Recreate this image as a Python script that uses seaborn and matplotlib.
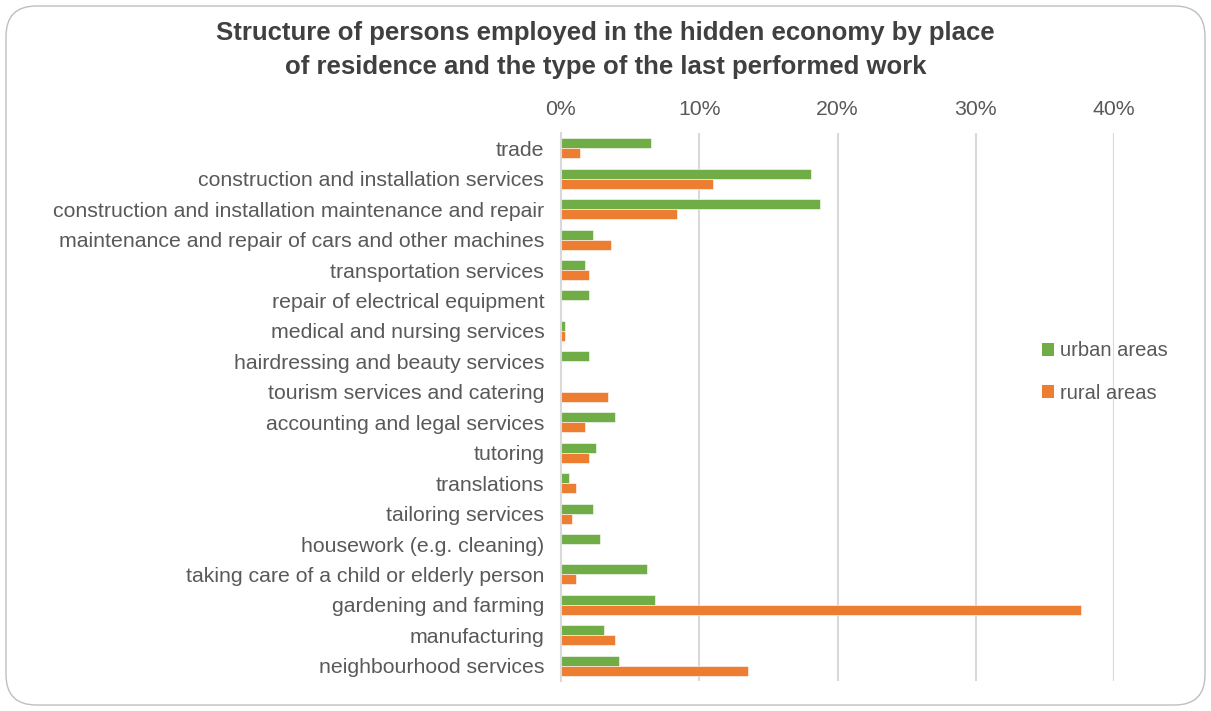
import numpy as np
import pandas as pd
import seaborn as sns
import matplotlib.pyplot as plt
from matplotlib.patches import FancyBboxPatch, Patch
from matplotlib.ticker import PercentFormatter

# ==================== data ====================
categories = [
    "trade",
    "construction and installation services",
    "construction and installation maintenance and repair",
    "maintenance and repair of cars and other machines",
    "transportation services",
    "repair of electrical equipment",
    "medical and nursing services",
    "hairdressing and beauty services",
    "tourism services and catering",
    "accounting and legal services",
    "tutoring",
    "translations",
    "tailoring services",
    "housework (e.g. cleaning)",
    "taking care of a child or elderly person",
    "gardening and farming",
    "manufacturing",
    "neighbourhood services",
]
urban = [6.5, 18.1, 18.7, 2.3, 1.7, 2.0, 0.3, 2.0, 0.0, 3.9, 2.5, 0.6,
         2.3, 2.8, 6.2, 6.8, 3.1, 4.2]
rural = [1.4, 11.0, 8.4, 3.6, 2.0, 0.0, 0.3, 0.0, 3.4, 1.7, 2.0, 1.1,
         0.8, 0.0, 1.1, 37.6, 3.9, 13.5]
series_names = ["urban areas", "rural areas"]
colors = ["#70ad47", "#ed7d31"]

# long format for seaborn
df = pd.DataFrame({
    "category": categories * 2,
    "value": np.array(urban + rural) / 100.0,
    "area": [series_names[0]] * len(categories) + [series_names[1]] * len(categories),
})

# ==================== style ====================
sns.set_style("white")
plt.rcParams['font.family'] = ['Liberation Sans', 'DejaVu Sans']
text_color = "#595959"
fs = 15.3

fig = plt.figure(figsize=(12.11, 7.11), dpi=100)
ax = fig.add_axes([561 / 1211, 1 - 681 / 711, (1114 - 561) / 1211, (681 - 133) / 711])

sns.barplot(
    data=df, y="category", x="value", hue="area", orient="h",
    order=categories, hue_order=series_names, palette=colors, saturation=1,
    width=0.66, edgecolor="white", linewidth=0.4, ax=ax, legend=False,
)

ax.set_xlim(0, 0.4)
ax.set_ylim(len(categories) - 0.5, -0.5)
ax.set_xticks([0, 0.1, 0.2, 0.3, 0.4])
ax.xaxis.set_major_formatter(PercentFormatter(1.0, decimals=0))
ax.xaxis.tick_top()
ax.tick_params(axis="x", length=0, pad=10, labelsize=fs, colors=text_color)
ax.tick_params(axis="y", length=0, pad=12, labelsize=fs, colors=text_color)
ax.set_xlabel("")
ax.set_ylabel("")
ax.grid(axis="x", color="#d9d9d9", linewidth=1.5)
ax.set_axisbelow(True)
for side in ["top", "right", "bottom"]:
    ax.spines[side].set_visible(False)
ax.spines["left"].set_color("#d9d9d9")
ax.spines["left"].set_linewidth(1.5)

# legend
handles = [Patch(facecolor=c, edgecolor="none") for c in colors]
fig.legend(handles, series_names, loc="center left",
           bbox_to_anchor=(1024 / 1211, 1 - 372 / 711), frameon=False,
           fontsize=14.5, labelcolor=text_color, handlelength=0.6,
           handleheight=0.6, handletextpad=0.3, labelspacing=1.15)

# title
fig.text(0.5, 1 - 50 / 711,
         "Structure of persons employed in the hidden economy by place\nof residence and the type of the last performed work",
         ha="center", va="center", fontsize=18.5, fontweight="bold",
         color="#404040", linespacing=1.5)

# rounded chart border
border = FancyBboxPatch((6 / 1211, 6 / 711), 1 - 12 / 1211, 1 - 12 / 711,
                        boxstyle="round,pad=0,rounding_size=0.025",
                        transform=fig.transFigure, facecolor="none",
                        edgecolor="#bfbfbf", linewidth=1.0,
                        mutation_aspect=1211 / 711)
fig.patches.append(border)

fig.savefig("out.png", dpi=100)
